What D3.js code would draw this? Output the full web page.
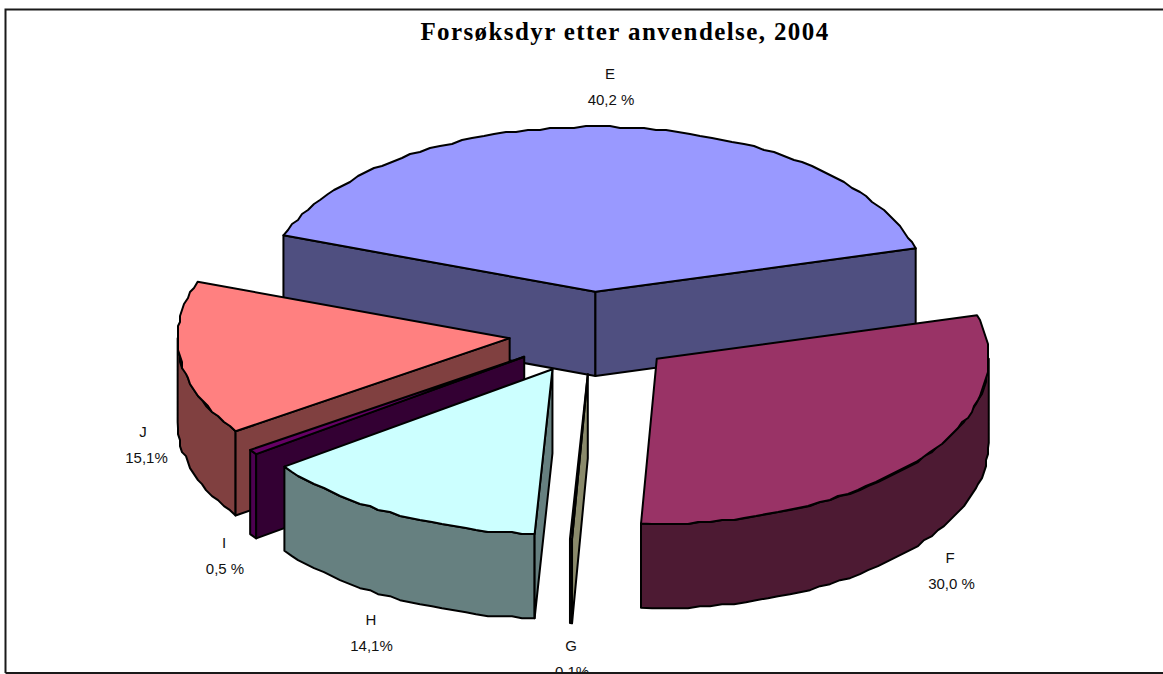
<!DOCTYPE html>
<html>
<head>
<meta charset="utf-8">
<script src="https://cdn.jsdelivr.net/npm/d3@7"></script>
<style>
  html, body { margin: 0; padding: 0; background: #fff; overflow: hidden; }
  svg { display: block; }
</style>
</head>
<body>
<div id="chart"></div>
<script>
// Chart data
const categories = ["E", "F", "G", "H", "I", "J"];
const shares = [40.2, 30.0, 0.1, 14.1, 0.5, 15.1];
const shareLabels = ["40,2 %", "30,0 %", "0,1%", "14,1%", "0,5 %", "15,1%"];
const topColors = ["#9999ff", "#993366", "#ffffcc", "#ccffff", "#660066", "#ff8080"];
const wallColors = ["#4f4f80", "#4d1a33", "#8a8a6b", "#668080", "#330033", "#804040"];
const rimColors = ["#4f4f80", "#4d1a33", "#8a8a6b", "#668080", "#4d0050", "#804040"];
const title = "Forsøksdyr etter anvendelse, 2004";

const width = 1163;
const height = 674;

// Where each label sits (letter x, baseline of first line, percent x)
const labelPos = {
    E: [610, 79, 611], F: [950, 563, 951.5], G: [571, 651, 572],
    H: [371, 625, 371.5], I: [224, 548, 225], J: [143, 437, 146.5]
};

const svg = d3.select("#chart")
    .append("svg")
    .attr("width", width)
    .attr("height", height);

// Frame of the chart area
svg.append("path")
    .attr("d", `M5.5,673V9.5H${width}M5.5,673H${width}`)
    .attr("fill", "none")
    .attr("stroke", "#1a1a1a")
    .attr("stroke-width", 2);

// Scales from unit pie coordinates to the page
const x = d3.scaleLinear().domain([-1, 1]).range([592 - 332, 592 + 332]);
const y = d3.scaleLinear().domain([-1, 1]).range([333 - 165, 333 + 165]);

const explode = 0.25;
const depth = 0.51;
const startDeg = -70;

const pie = d3.pie()
    .sort(null)
    .startAngle(startDeg * Math.PI / 180)
    .endAngle((startDeg + 360) * Math.PI / 180);
const slices = pie(shares).map((d, i) => {
    const mid = (d.startAngle + d.endAngle) / 2;
    return {
        i: i,
        a0: d.startAngle,
        a1: d.endAngle,
        ox: explode * Math.sin(mid),
        oy: -explode * Math.cos(mid)
    };
});

const line = d3.line();
const snap = 2; // the rim of the original is visibly jagged
const snapTo = v => Math.round(v / snap) * snap;

function edgePoint(s, a, drop) {
    return [x(s.ox + Math.sin(a)), y(s.oy - Math.cos(a) + drop)];
}

function apex(s, drop) {
    return [x(s.ox), y(s.oy + drop)];
}

// Points along the outer edge between two angles
function arcPoints(s, a0, a1) {
    const n = Math.max(1, Math.round((a1 - a0) / (2 * Math.PI / 180)));
    return d3.range(n + 1).map(k => {
        const p = edgePoint(s, a0 + (a1 - a0) * k / n, 0);
        return (k === 0 || k === n) ? p : p.map(snapTo);
    });
}

function outline(g, points, fill) {
    g.append("path")
        .attr("d", line(points) + "Z")
        .attr("fill", fill)
        .attr("stroke", "#000")
        .attr("stroke-width", 2)
        .attr("stroke-linejoin", "round");
}

// Painter's order, back to front
const order = [0, 1, 5, 4, 3, 2];
const dropPx = y(depth) - y(0);
order.forEach(i => {
    const s = slices[i];
    const g = svg.append("g").attr("class", "slice-" + categories[i]);

    // outer rim, only the part facing the viewer
    const r0 = Math.max(s.a0, Math.PI / 2);
    const r1 = Math.min(s.a1, Math.PI * 3 / 2);
    if (r1 > r0) {
        const front = arcPoints(s, r0, r1);
        const rim = front.map(p => [p[0], p[1] + dropPx]);
        outline(g, front.concat(rim.reverse()), rimColors[i]);
    }

    // radial walls that can be seen from the front
    if (Math.sin(s.a0) < 0) {
        outline(g, [apex(s, 0), edgePoint(s, s.a0, 0), edgePoint(s, s.a0, depth), apex(s, depth)], wallColors[i]);
    }
    if (Math.sin(s.a1) > 0) {
        outline(g, [apex(s, 0), edgePoint(s, s.a1, 0), edgePoint(s, s.a1, depth), apex(s, depth)], wallColors[i]);
    }

    // top face
    outline(g, [apex(s, 0)].concat(arcPoints(s, s.a0, s.a1)), topColors[i]);
});

// Title
svg.append("text")
    .attr("x", 625)
    .attr("y", 40)
    .attr("text-anchor", "middle")
    .attr("font-family", "'Liberation Serif', serif")
    .attr("font-weight", "bold")
    .attr("font-size", 25)
    .attr("letter-spacing", 1.4)
    .text(title);

// Labels, clipped at the frame like the original
svg.append("clipPath")
    .attr("id", "frame-clip")
    .append("rect")
    .attr("width", width)
    .attr("height", 672);

const labels = svg.append("g").attr("clip-path", "url(#frame-clip)");
categories.forEach((c, i) => {
    const t = labels.append("text")
        .attr("text-anchor", "middle")
        .attr("font-family", "'Liberation Sans', sans-serif")
        .attr("font-size", 15)
        .attr("fill", "#111");
    t.append("tspan")
        .attr("x", labelPos[c][0])
        .attr("y", labelPos[c][1])
        .text(c);
    t.append("tspan")
        .attr("x", labelPos[c][2])
        .attr("y", labelPos[c][1] + 26)
        .text(shareLabels[i]);
});
</script>
</body>
</html>
